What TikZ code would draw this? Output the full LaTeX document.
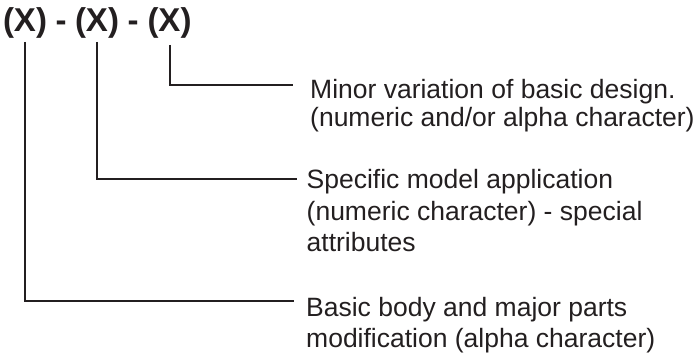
\documentclass[tikz,border=0pt]{standalone}
\usepackage{fontspec}
\setmainfont{Liberation Sans}
\definecolor{ink}{HTML}{231F20}
\begin{document}
\begin{tikzpicture}[x=1pt,y=-1pt,
  titlex/.style={inner sep=0pt,anchor=base,text=ink,font=\fontsize{33}{36}\selectfont\bfseries},
  desc/.style={inner sep=0pt,anchor=base west,align=left,text=ink},
  lead/.style={draw=ink,line width=2pt}]
\useasboundingbox (0,0) rectangle (697,355);
% title
\node[titlex] (x1) at (25,32) {(X)};
\node[titlex] (d1) at (61,32) {-};
\node[titlex] (x2) at (97,32) {(X)};
\node[titlex] (d2) at (133,32) {-};
\node[titlex] (x3) at (169.5,32) {(X)};
% descriptions (anchor = baseline of last line)
\node[desc,font=\fontsize{26.5}{28}\selectfont] (t1) at (310,126.5)
  {Minor variation of basic design.\\(numeric and/or alpha character)};
\node[desc,font=\fontsize{26.5}{31.5}\selectfont] (t2) at (306.5,252)
  {Specific model application\\(numeric character) - special\\attributes};
\node[desc,font=\fontsize{26.5}{30.5}\selectfont] (t3) at (306,347.5)
  {Basic body and major parts\\modification (alpha character)};
% leader ends
\coordinate (e1) at (293,85);
\coordinate (e2) at (297,179.5);
\coordinate (e3) at (294,301.5);
% leaders
\draw[lead] ([yshift=-13pt]x3.base) |- (e1);
\draw[lead] ([yshift=-10pt]x2.base) |- (e2);
\draw[lead] ([yshift=-10pt]x1.base) |- (e3);
\end{tikzpicture}
\end{document}
